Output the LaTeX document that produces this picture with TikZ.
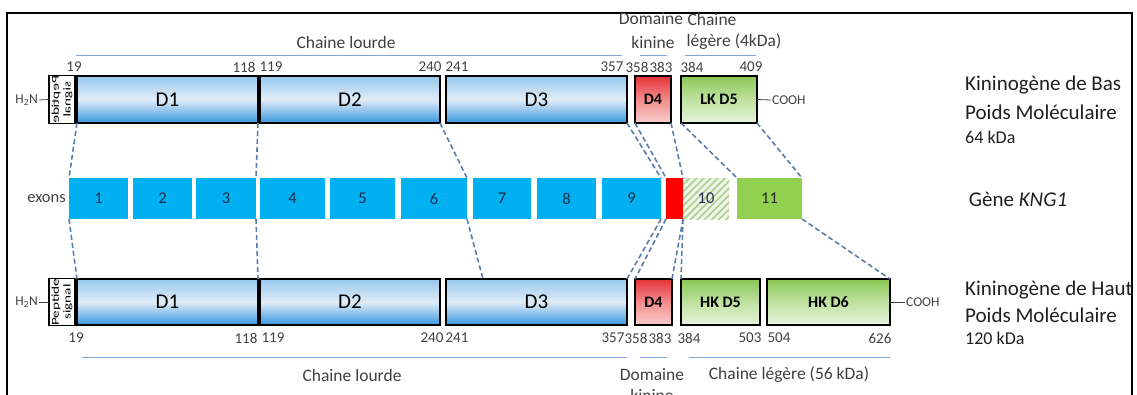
\documentclass[tikz,border=0pt]{standalone}
\usepackage{fontspec}
\setmainfont{Carlito}
\usetikzlibrary{patterns.meta}
\definecolor{exblue}{HTML}{00B0F0}
\definecolor{exgreen}{HTML}{92D050}
\definecolor{hatchbg}{HTML}{EEF5E6}
\definecolor{hatchln}{HTML}{A9D18E}
\definecolor{dashc}{HTML}{5C7DA8}
\definecolor{lblc}{HTML}{7FA3D6}
\definecolor{txtc}{HTML}{404040}
\definecolor{numc}{HTML}{1F3050}
\newcommand\mybox[7]{\node[#1, minimum width={#4-#3}, minimum height={#6-#5}] (#2) at ({(#3+#4)/2},{(#5+#6)/2}) {#7};}
\newcommand\pepsig{\fontsize{10.5}{9.5}\selectfont\scalebox{1.45}[1]{\shortstack{Peptide\\signal}}}
\begin{document}
\begin{tikzpicture}[x=1pt,y=-1pt,
  dom/.style={draw=black, line width=2.6pt, inner sep=0pt, outer sep=0pt, font=\fontsize{21}{21}\selectfont},
  bluedom/.style={dom, top color={rgb,255:red,150;green,200;blue,238}, bottom color={rgb,255:red,55;green,150;blue,222}, middle color={rgb,255:red,225;green,236;blue,247}},
  reddom/.style={dom, top color={rgb,255:red,228;green,50;blue,55}, bottom color={rgb,255:red,250;green,205;blue,205}, middle color={rgb,255:red,242;green,140;blue,140}, font=\fontsize{16}{16}\selectfont\bfseries},
  greendom/.style={dom, top color={rgb,255:red,140;green,200;blue,85}, bottom color={rgb,255:red,232;green,243;blue,220}, middle color={rgb,255:red,190;green,225;blue,160}, font=\fontsize{16}{16}\selectfont\bfseries},
  pep/.style={draw=black, line width=1.1pt, fill=white, inner sep=0pt, outer sep=0pt},
  exon/.style={fill=exblue, inner sep=0pt, outer sep=0pt, text=numc, font=\fontsize{16.5}{16.5}\selectfont},
  num/.style={text=txtc, font=\fontsize{15}{15}\selectfont, inner sep=0pt},
  lbl/.style={text=txtc, font=\fontsize{17.5}{17.5}\selectfont, inner sep=0pt},
  big/.style={text=black!88, font=\fontsize{21}{21}\selectfont, inner sep=0pt, anchor=west},
  kda/.style={text=black!88, font=\fontsize{18}{18}\selectfont, inner sep=0pt, anchor=west},
  uline/.style={draw=lblc, line width=1pt},
  conn/.style={draw=dashc, line width=1.6pt, dash pattern=on 5pt off 3pt},
  term/.style={draw=txtc, line width=0.8pt},
  termtxt/.style={text=txtc, font=\fontsize{13.5}{13.5}\selectfont, inner sep=1pt}
]
\useasboundingbox (0,0) rectangle (1137,394);
% frame
\draw[line width=1.3pt] (7,13) rectangle (1132,430);

% ---------- top protein (LK) ----------
\mybox{pep}{ptop}{49}{75}{76}{123}{\scalebox{1}[-1]{\rotatebox{90}{\pepsig}}}
\mybox{bluedom}{tD1}{77}{258}{76}{123}{D1}
\mybox{bluedom}{tD2}{260}{440}{76}{123}{D2}
\mybox{bluedom}{tD3}{446}{627}{76}{123}{D3}
\mybox{reddom}{tD4}{635}{671}{76}{123}{D4}
\mybox{greendom}{tD5}{681}{757}{76}{123}{LK D5}
\node[termtxt, anchor=east] (h2nT) at (39,100) {H\textsubscript{2}N};
\draw[term] (h2nT.east) -- (ptop.west);
\node[termtxt, anchor=west] (coohT) at (771,100) {COOH};
\draw[term] (tD5.east) -- (coohT.west);

\node[num] (n1) at (74,67) {19};
\node[num] (n2) at (244,67) {118};
\node[num] (n3) at (271,67) {119};
\node[num] (n4) at (430,67) {240};
\node[num] (n5) at (457,67) {241};
\node[num] (n6) at (612,67) {357};
\node[num] (n7) at (637,67) {358};
\node[num] (n8) at (661,67) {383};
\node[num] (n9) at (692,67) {384};
\node[num] (n10) at (751,67) {409};

\node[lbl] (lt1) at (346,42) {Chaine lourde};
\node[lbl] (lt2) at (651,19) {Domaine};
\node[lbl] (lt3) at (653,42) {kinine};
\node[lbl] (lt4) at (712,19) {Chaine};
\node[lbl] (lt5) at (734,42) {légère (4kDa)};
\draw[uline] (76,55) -- (622,55);
\draw[uline] (640,55) -- (667,55);
\draw[uline] (685,55) -- (756,55);

\node[big] (rt1) at (965,85) {Kininogène de Bas};
\node[big] (rt2) at (965,112) {Poids Moléculaire};
\node[kda] (rt3) at (965,137) {64 kDa};

% ---------- exons ----------
\node[text=txtc, font=\fontsize{16.5}{16.5}\selectfont, inner sep=0pt, anchor=east] (exl) at (66,199) {exons};
\mybox{exon}{e1}{69}{128}{178}{219}{1}
\mybox{exon}{e2}{133}{192}{178}{219}{2}
\mybox{exon}{e3}{196}{256}{178}{219}{3}
\mybox{exon}{e4}{260}{325}{178}{219}{4}
\mybox{exon}{e5}{330}{395}{178}{219}{5}
\mybox{exon}{e6}{401}{467}{178}{219}{6}
\mybox{exon}{e7}{473}{531}{178}{219}{7}
\mybox{exon}{e8}{537}{596}{178}{219}{8}
\mybox{exon}{e9}{602}{661}{178}{219}{9}
\mybox{exon, fill=red}{er}{666}{683}{178}{219}{}
\mybox{exon, fill=none, preaction={fill=hatchbg}, pattern={Lines[angle=45,distance=5pt,line width=1.6pt]}, pattern color=hatchln}{e10}{683}{729}{178}{219}{10}
\mybox{exon, fill=exgreen, text=black!85}{e11}{737}{802}{178}{219}{11}
\node[text=black!88, font=\fontsize{21}{21}\selectfont, inner sep=0pt] (gene) at (1018,199) {Gène \textit{KNG1}};

% ---------- bottom protein (HK) ----------
\mybox{pep}{pbot}{49}{75}{279}{325}{\rotatebox{90}{\pepsig}}
\mybox{bluedom}{bD1}{77}{258}{279}{325}{D1}
\mybox{bluedom}{bD2}{260}{440}{279}{325}{D2}
\mybox{bluedom}{bD3}{446}{627}{279}{325}{D3}
\mybox{reddom}{bD4}{635}{672}{279}{325}{D4}
\mybox{greendom}{bD5}{681}{760}{279}{325}{HK D5}
\mybox{greendom}{bD6}{767}{890}{279}{325}{HK D6}
\node[termtxt, anchor=east] (h2nB) at (39,302) {H\textsubscript{2}N};
\draw[term] (h2nB.east) -- (pbot.west);
\node[termtxt, anchor=west] (coohB) at (905,302) {COOH};
\draw[term] (bD6.east) -- (coohB.west);

\node[num] (m1) at (76,338) {19};
\node[num] (m2) at (246,338) {118};
\node[num] (m3) at (273,338) {119};
\node[num] (m4) at (432,338) {240};
\node[num] (m5) at (457,338) {241};
\node[num] (m6) at (613,338) {357};
\node[num] (m7) at (636,338) {358};
\node[num] (m8) at (660,338) {383};
\node[num] (m9) at (689,338) {384};
\node[num] (m10) at (750,338) {503};
\node[num] (m11) at (779,338) {504};
\node[num] (m12) at (880,338) {626};

\draw[uline] (82,357) -- (627,357);
\draw[uline] (640,357) -- (667,357);
\draw[uline] (689,357) -- (890,357);
\node[lbl] (lb1) at (352,375) {Chaine lourde};
\node[lbl] (lb2) at (652,375) {Domaine};
\node[lbl] (lb3) at (652,395) {kinine};
\node[lbl] (lb4) at (789,375) {Chaine légère (56 kDa)};

\node[big] (rb1) at (965,290) {Kininogène de Haut};
\node[big] (rb2) at (965,315) {Poids Moléculaire};
\node[kda] (rb3) at (965,338) {120 kDa};

% ---------- dashed connectors ----------
\coordinate (d3m) at (483,279);
\draw[conn] (tD1.south west) -- (e1.north west);
\draw[conn] (tD1.south east) -- (e3.north east);
\draw[conn] (tD2.south east) -- (e6.north east);
\draw[conn] (tD3.south east) -- (e9.north east);
\draw[conn] (tD4.south west) -- (er.north west);
\draw[conn] (tD4.south east) -- (er.north east);
\draw[conn] (tD5.south west) -- (e11.north west);
\draw[conn] (tD5.south east) -- (e11.north east);

\draw[conn] (e1.south west) -- (bD1.north west);
\draw[conn] (e3.south east) -- (bD1.north east);
\draw[conn] (e6.south east) -- (d3m);
\draw[conn] (e9.south east) -- (bD3.north east);
\draw[conn] (er.south west) -- (bD4.north west);
\draw[conn] (er.south east) -- (bD4.north east);
\draw[conn] (er.south east) -- (bD5.north west);
\draw[conn] (e11.south east) -- (bD6.north east);
\end{tikzpicture}
\end{document}
